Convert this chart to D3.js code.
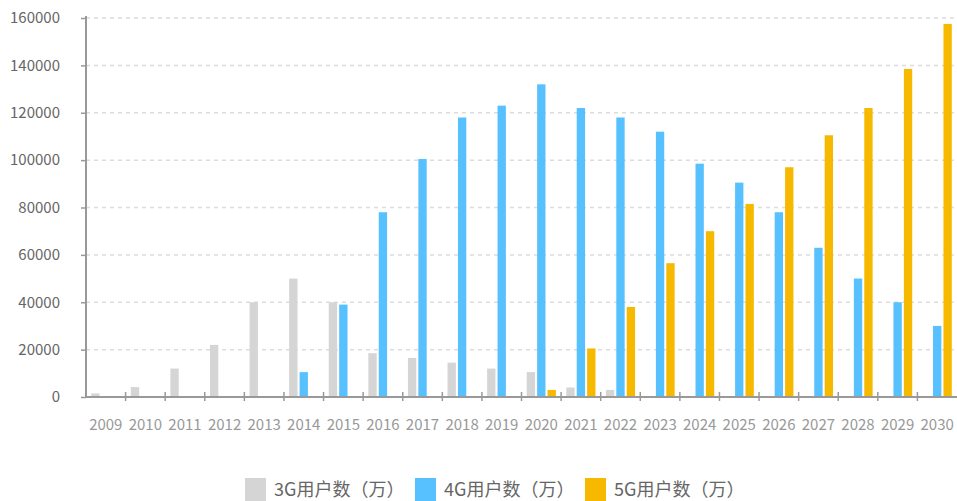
<!DOCTYPE html>
<html>
<head>
<meta charset="utf-8">
<script src="https://cdn.jsdelivr.net/npm/d3@7"></script>
<style>
  html, body { margin: 0; padding: 0; background: #fff; }
  svg text { font-family: "Noto Sans CJK SC", "Noto Sans", sans-serif; }
</style>
</head>
<body>
<svg id="chart" width="957" height="501"></svg>
<script>
/*  Data  */
const years = ["2009","2010","2011","2012","2013","2014","2015","2016","2017","2018","2019",
               "2020","2021","2022","2023","2024","2025","2026","2027","2028","2029","2030"];
const users3G = [1500, 4200, 12000, 22000, 40000, 50000, 40000, 18500, 16500, 14500, 12000,
                 10500, 4000, 3000, 0, 0, 0, 0, 0, 0, 0, 0];
const users4G = [0, 0, 0, 0, 0, 10500, 39000, 78000, 100500, 118000, 123000,
                 132000, 122000, 118000, 112000, 98500, 90500, 78000, 63000, 50000, 40000, 30000];
const users5G = [0, 0, 0, 0, 0, 0, 0, 0, 0, 0, 0,
                 3000, 20500, 38000, 56500, 70000, 81500, 97000, 110500, 122000, 138500, 157500];
const seriesNames = ["3G用户数（万）", "4G用户数（万）", "5G用户数（万）"];
const seriesColors = ["#d5d5d5", "#57c0ff", "#f7b900"];
const yTicks = [0, 20000, 40000, 60000, 80000, 100000, 120000, 140000, 160000];

/*  Dimensions  */
const x0Left = 86, x0Right = 957, yBottom = 397, yTop = 18;

const svg = d3.select("#chart");

const x0 = d3.scaleBand().domain(years).range([x0Left, x0Right]).padding(0);
const x1 = d3.scaleBand().domain(d3.range(3)).range([0, x0.bandwidth()])
  .paddingInner(0.2).paddingOuter(0.5);
const y = d3.scaleLinear().domain([0, 160000]).range([yBottom, yTop]);

/* ---------- grid ---------- */
svg.append("g").attr("class", "grid")
  .selectAll("line")
  .data(yTicks.filter(d => d > 0))
  .join("line")
    .attr("x1", x0Left).attr("x2", x0Right)
    .attr("y1", d => y(d)).attr("y2", d => y(d))
    .attr("stroke", "#dcdcdc")
    .attr("stroke-width", 1.5)
    .attr("stroke-dasharray", "4 4");

/* ---------- bars ---------- */
const table = years.map((yr, i) => ({year: yr, vals: [users3G[i], users4G[i], users5G[i]]}));

svg.append("g").attr("class", "bars")
  .selectAll("g")
  .data(table)
  .join("g")
    .attr("transform", d => `translate(${x0(d.year)},0)`)
  .selectAll("rect")
  .data(d => d.vals.map((v, k) => ({k, v})).filter(e => e.v > 0))
  .join("rect")
    .attr("x", d => x1(d.k))
    .attr("width", x1.bandwidth())
    .attr("y", d => y(d.v))
    .attr("height", d => yBottom - y(d.v))
    .attr("fill", d => seriesColors[d.k]);

/* ---------- y axis ---------- */
const yAxis = d3.axisLeft(y).tickValues(yTicks).tickSize(5).tickPadding(21).tickFormat(d3.format("d"));
const gy = svg.append("g").attr("transform", `translate(${x0Left},0)`).call(yAxis);
gy.select(".domain").attr("stroke", "#999").attr("stroke-width", 2)
  .attr("d", `M0,${yTop - 2}V${yBottom}`);
gy.selectAll(".tick line").attr("stroke", "#999").attr("stroke-width", 1.5);
gy.selectAll(".tick text").attr("fill", "#666").style("font-size", "15px")
  .style("font-family", "'Noto Sans CJK SC', sans-serif");

/* ---------- x axis ---------- */
const gx = svg.append("g").attr("transform", `translate(0,${yBottom})`);
gx.append("line")
  .attr("x1", x0Left).attr("x2", x0Right)
  .attr("stroke", "#999").attr("stroke-width", 2);
gx.selectAll(".xtick")
  .data(years.slice(1))
  .join("line")
    .attr("class", "xtick")
    .attr("x1", d => x0(d)).attr("x2", d => x0(d))
    .attr("y1", -5).attr("y2", 4)
    .attr("stroke", "#999").attr("stroke-width", 1.5);
gx.selectAll(".xlabel")
  .data(years)
  .join("text")
    .attr("class", "xlabel")
    .attr("x", d => x0(d) + x0.bandwidth() / 2)
    .attr("y", 33)
    .attr("text-anchor", "middle")
    .attr("fill", "#999")
    .style("font-size", "15px")
    .text(d => d);

/* ---------- legend ---------- */
const legendX = [245, 415, 585];
const legend = svg.append("g").attr("class", "legend")
  .selectAll("g")
  .data(seriesNames)
  .join("g")
    .attr("transform", (d, i) => `translate(${legendX[i]},478)`);
legend.append("rect")
  .attr("width", 21).attr("height", 25)
  .attr("fill", (d, i) => seriesColors[i]);
legend.append("text")
  .attr("x", 29).attr("y", 18)
  .attr("fill", "#666")
  .style("font-size", "18px")
  .text(d => d);
</script>
</body>
</html>
